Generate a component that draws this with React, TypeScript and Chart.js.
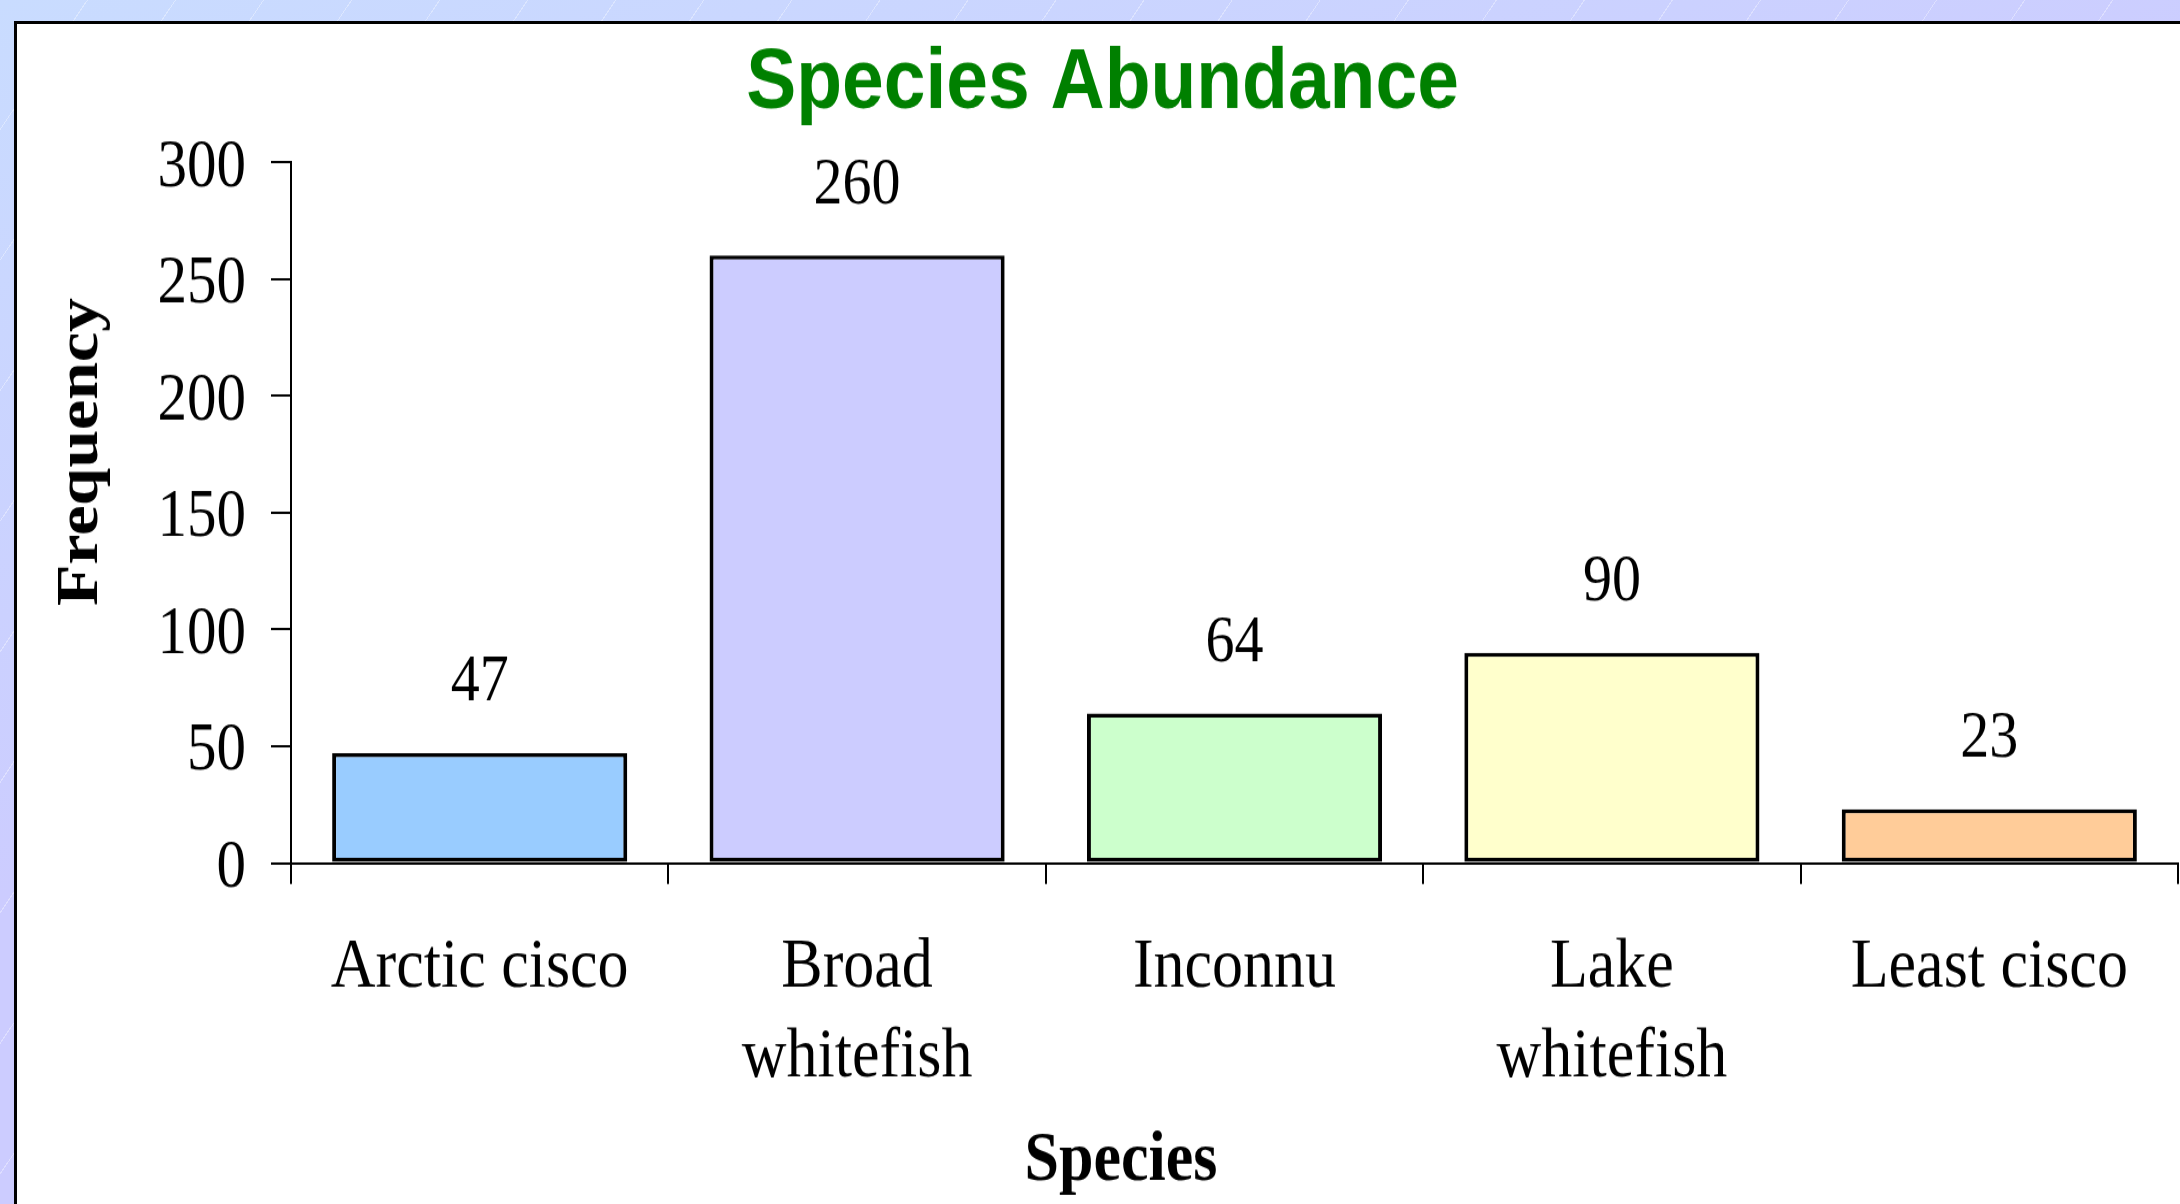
import React, { useEffect, useRef } from 'react';
import { Chart, registerables } from 'chart.js';

Chart.register(...registerables);

// ---- data ----
const categories: string[] = ['Arctic cisco', 'Broad whitefish', 'Inconnu', 'Lake whitefish', 'Least cisco'];
const categoryLines: string[][] = [['Arctic cisco'], ['Broad', 'whitefish'], ['Inconnu'], ['Lake', 'whitefish'], ['Least cisco']];
const frequencies: number[] = [47, 260, 64, 90, 23];
const barColors: string[] = ['#99CCFF', '#CCCCFF', '#CCFFCC', '#FFFFCC', '#FFCC99'];
const yTickValues: number[] = [0, 50, 100, 150, 200, 250, 300];
const chartTitle = 'Species Abundance';
const xAxisTitle = 'Species';
const yAxisTitle = 'Frequency';

// ---- geometry (the original picture is stretched vertically) ----
const STRETCH = 1.15;
const CANVAS_LEFT = 17;
const CANVAS_TOP = 24;
const CANVAS_W = 2171;
const LEFT_PAD = 10;
const RIGHT_PAD = 10;
const CANVAS_DISPLAY_H = 1180;
const CANVAS_H = Math.round(CANVAS_DISPLAY_H / STRETCH);
const toY = (displayY: number) => (displayY - CANVAS_TOP) / STRETCH;

const PLOT_LEFT = 291 - CANVAS_LEFT;
const PLOT_TOP = toY(162);
const PLOT_BOTTOM = toY(863);
const TITLE_SIZE = 75;
const TITLE_LH = 1.2;
const TITLE_CENTER = toY(84);
const TITLE_PAD_TOP = TITLE_CENTER - (TITLE_SIZE * TITLE_LH) / 2;
const TITLE_PAD_BOTTOM = PLOT_TOP - TITLE_PAD_TOP - TITLE_SIZE * TITLE_LH;

const SERIF = '"Liberation Serif", "Times New Roman", serif';
const SANS = '"Liberation Sans", Arial, sans-serif';

const valueLabelPlugin = {
  id: 'valueLabels',
  afterDatasetsDraw(chart: any) {
    const { ctx } = chart;
    const meta = chart.getDatasetMeta(0);
    ctx.save();
    ctx.fillStyle = '#000';
    ctx.font = `58px ${SERIF}`;
    ctx.textAlign = 'center';
    ctx.textBaseline = 'middle';
    meta.data.forEach((bar: any, i: number) => {
      ctx.fillText(String(frequencies[i]), bar.x, bar.y - 61);
    });
    ctx.restore();
  },
};

const axisTitlePlugin = {
  id: 'axisTitles',
  afterDraw(chart: any) {
    const { ctx } = chart;
    ctx.save();
    ctx.fillStyle = '#000';
    ctx.textAlign = 'center';
    ctx.textBaseline = 'middle';
    ctx.font = `bold 62px ${SERIF}`;
    ctx.fillText(xAxisTitle, 1121 - CANVAS_LEFT, toY(1161));
    ctx.font = `bold 59px ${SERIF}`;
    ctx.translate(82 - CANVAS_LEFT, toY(452));
    ctx.rotate(-Math.PI / 2);
    ctx.fillText(yAxisTitle, 0, 0);
    ctx.restore();
  },
};

function SpeciesChart() {
  const ref = useRef<HTMLCanvasElement | null>(null);
  useEffect(() => {
    if (!ref.current) return;
    const chart = new Chart(ref.current, {
      type: 'bar',
      data: {
        labels: categories,
        datasets: [
          {
            label: 'Frequency',
            data: frequencies,
            backgroundColor: barColors,
            borderColor: '#000',
            borderWidth: { left: 4, right: 4, top: 3.5, bottom: 3.5 },
            borderSkipped: false,
            barPercentage: 0.782,
            categoryPercentage: 1,
          },
        ],
      },
      options: {
        animation: false,
        responsive: false,
        devicePixelRatio: 1,
        layout: { padding: { left: LEFT_PAD, right: RIGHT_PAD, top: 0, bottom: 0 } },
        plugins: {
          legend: { display: false },
          tooltip: { enabled: false },
          title: {
            display: true,
            text: chartTitle,
            color: '#008000',
            font: { family: SANS, size: TITLE_SIZE, weight: 'bold', lineHeight: TITLE_LH },
            padding: { top: TITLE_PAD_TOP, bottom: TITLE_PAD_BOTTOM },
          },
        },
        scales: {
          x: {
            offset: true,
            grid: {
              display: true,
              offset: true,
              drawOnChartArea: false,
              drawTicks: true,
              tickLength: 21 / STRETCH,
              color: '#000',
              lineWidth: 2,
            },
            border: { display: true, color: '#000', width: 2 },
            ticks: {
              color: '#000',
              font: { family: SERIF, size: 62, lineHeight: 1.26 },
              padding: 34,
              maxRotation: 0,
              autoSkip: false,
              callback: (_v: any, i: number) => categoryLines[i],
            },
            afterFit: (s: any) => {
              s.height = CANVAS_H - PLOT_BOTTOM;
            },
          },
          y: {
            min: yTickValues[0],
            max: yTickValues[yTickValues.length - 1],
            grid: {
              display: true,
              drawOnChartArea: false,
              drawTicks: true,
              tickLength: 20,
              color: '#000',
              lineWidth: 2,
            },
            border: { display: true, color: '#000', width: 2 },
            ticks: {
              color: '#000',
              font: { family: SERIF, size: 59, lineHeight: 1.2 },
              padding: 25,
              labelOffset: 5,
            },
            afterBuildTicks: (s: any) => {
              s.ticks = yTickValues.map((v) => ({ value: v }));
            },
            afterFit: (s: any) => {
              s.width = PLOT_LEFT - LEFT_PAD;
            },
          },
        },
      },
      plugins: [valueLabelPlugin, axisTitlePlugin],
    });
    return () => chart.destroy();
  }, []);

  return (
    <canvas
      ref={ref}
      width={CANVAS_W}
      height={CANVAS_H}
      style={{
        position: 'absolute',
        left: CANVAS_LEFT,
        top: CANVAS_TOP,
        width: `${CANVAS_W}px`,
        height: `${CANVAS_DISPLAY_H}px`,
      }}
    />
  );
}

export default function App() {
  return (
    <div
      style={{
        position: 'fixed',
        left: 0,
        top: 0,
        width: 2180,
        height: 1204,
        overflow: 'hidden',
        background:
          'repeating-linear-gradient(124deg, rgba(255,255,255,0) 0px, rgba(255,255,255,0) 72px, rgba(255,255,255,0.35) 72px, rgba(255,255,255,0.35) 73px), linear-gradient(160deg, #C9DCFF 0%, #CCCCFF 45%, #CCCCFF 100%)',
      }}
    >
      <div
        style={{
          position: 'absolute',
          left: 14,
          top: 21,
          width: 2300,
          height: 1300,
          background: '#fff',
          borderLeft: '3px solid #000',
          borderTop: '3px solid #000',
        }}
      />
      <SpeciesChart />
    </div>
  );
}
